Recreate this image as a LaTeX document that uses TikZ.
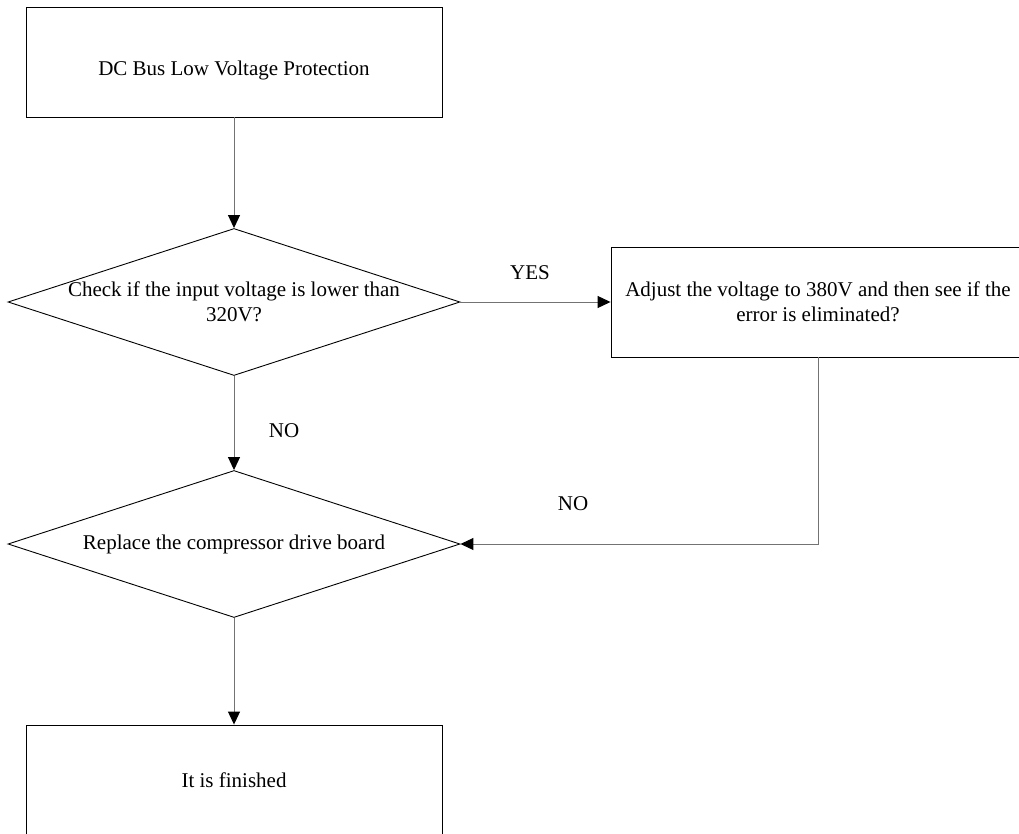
\documentclass[tikz,border=0pt]{standalone}
\usepackage{fontspec}
\setmainfont{Liberation Serif}
\usetikzlibrary{arrows.meta,positioning,shapes.geometric}

\begin{document}
\begin{tikzpicture}[
  x=1pt, y=-1pt,
  every node/.style = {font=\fontsize{21}{25}\selectfont, align=center},
  procbox/.style = {draw, line width=0.9pt, minimum width=416pt,
                    minimum height=110pt, inner sep=0pt},
  decision/.style = {draw, diamond, line width=0.9pt, minimum width=452pt,
                     minimum height=147pt, inner sep=0pt},
  flow/.style = {line width=1pt, draw=gray!90!black,
                 -{Triangle[color=black, length=13pt, width=12pt]}},
]
\clip (0,0) rectangle (1019,834);

% Main column
\node[procbox] (top) at (234,62) {};
\node (toptxt) at ([yshift=-8pt]top.center) {DC Bus Low Voltage Protection};
\node[decision] (chk) at (234,302) {};
\node (chktxt) at (chk.center) {Check if the input voltage is lower than\\320V?};
\node[decision] (rep) at (234,544) {};
\node (reptxt) at (rep.center) {Replace the compressor drive board};
\node[procbox] (done) at (234,780) {It is finished};

% Side box
\node[procbox, minimum width=414pt] (adj) at (818,302)
  {Adjust the voltage to 380V and then see if the\\error is eliminated?};

% Arrows
\draw[flow] (top) -- (chk);
\draw[flow] (chk) -- (adj);
\draw[flow] (chk) -- (rep);
\draw[flow] (adj.south) |- (rep.east);
\draw[flow] (rep) -- (done);

% Labels
\node (yes) at (530,273) {YES};
\node (no1) at (284,431) {NO};
\node (no2) at (573,504) {NO};
\end{tikzpicture}
\end{document}
